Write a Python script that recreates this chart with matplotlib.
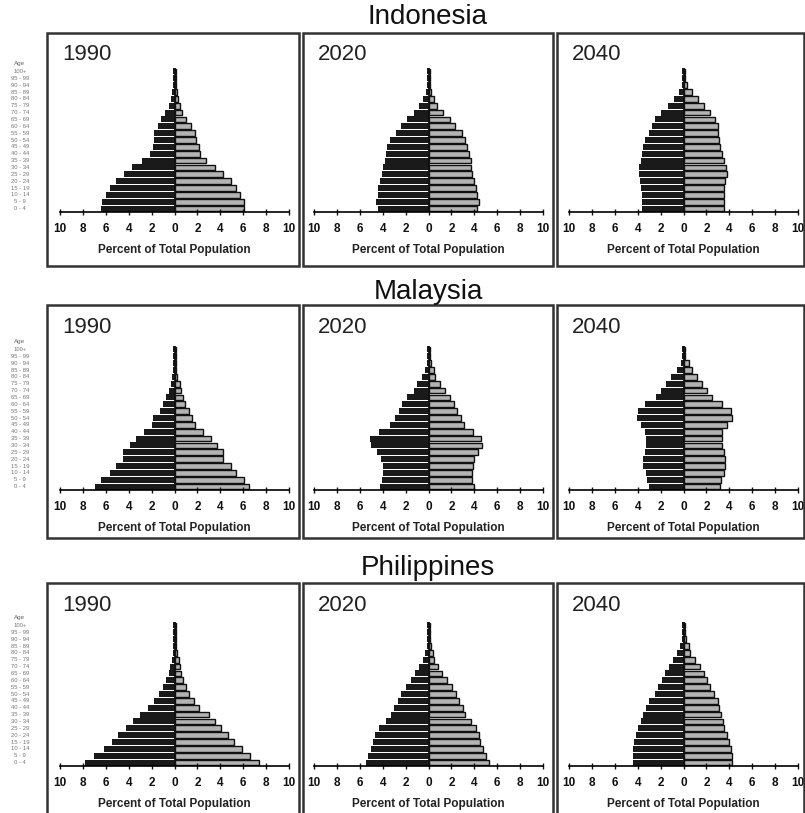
import matplotlib.pyplot as plt
from matplotlib.patches import Rectangle

plt.rcParams['font.family'] = ['Liberation Sans', 'DejaVu Sans']

W, H = 805, 813

age_groups = ["0 - 4", "5 - 9", "10 - 14", "15 - 19", "20 - 24", "25 - 29",
              "30 - 34", "35 - 39", "40 - 44", "45 - 49", "50 - 54", "55 - 59",
              "60 - 64", "65 - 69", "70 - 74", "75 - 79", "80 - 84", "85 - 89",
              "90 - 94", "95 - 99", "100+"]
countries = ["Indonesia", "Malaysia", "Philippines"]
years = ["1990", "2020", "2040"]

# percent of total population, age 0-4 first; male left, female right
idn_1990_m = [6.4, 6.3, 6.0, 5.6, 5.1, 4.4, 3.7, 2.8, 2.1, 1.9, 1.8, 1.75, 1.45, 1.15, 0.8, 0.5, 0.3, 0.18, 0.15, 0.15, 0.15]
idn_1990_f = [6.1, 6.1, 5.75, 5.4, 4.9, 4.2, 3.55, 2.75, 2.2, 2.1, 1.9, 1.75, 1.45, 1.0, 0.65, 0.45, 0.3, 0.18, 0.15, 0.15, 0.15]
idn_2020_m = [4.45, 4.6, 4.45, 4.4, 4.2, 4.1, 3.95, 3.8, 3.7, 3.6, 3.4, 2.85, 2.4, 1.9, 1.25, 0.8, 0.45, 0.25, 0.15, 0.15, 0.15]
idn_2020_f = [4.2, 4.4, 4.2, 4.15, 3.95, 3.8, 3.75, 3.75, 3.5, 3.35, 3.15, 2.9, 2.35, 1.9, 1.25, 0.75, 0.45, 0.25, 0.15, 0.15, 0.15]
idn_2040_m = [3.6, 3.6, 3.65, 3.7, 3.8, 3.85, 3.85, 3.7, 3.6, 3.5, 3.35, 3.05, 2.75, 2.5, 1.95, 1.35, 0.85, 0.4, 0.15, 0.15, 0.15]
idn_2040_f = [3.5, 3.5, 3.5, 3.5, 3.65, 3.8, 3.7, 3.5, 3.35, 3.2, 3.1, 3.05, 3.0, 2.75, 2.35, 1.75, 1.25, 0.7, 0.3, 0.15, 0.15]

mys_1990_m = [6.9, 6.45, 5.65, 5.15, 4.5, 4.5, 3.85, 3.4, 2.65, 2.0, 1.9, 1.25, 1.0, 0.7, 0.45, 0.3, 0.2, 0.15, 0.15, 0.15, 0.15]
mys_1990_f = [6.5, 6.1, 5.4, 4.9, 4.25, 4.2, 3.75, 3.2, 2.45, 1.75, 1.55, 1.3, 0.95, 0.7, 0.6, 0.45, 0.25, 0.15, 0.15, 0.15, 0.15]
mys_2020_m = [4.2, 4.1, 4.0, 4.0, 4.15, 4.5, 5.05, 5.1, 4.3, 3.35, 2.9, 2.55, 2.35, 1.9, 1.3, 1.0, 0.6, 0.3, 0.15, 0.15, 0.15]
mys_2020_f = [4.0, 3.8, 3.8, 3.85, 3.95, 4.35, 4.65, 4.6, 3.9, 3.1, 2.85, 2.5, 2.2, 1.85, 1.4, 1.0, 0.6, 0.45, 0.2, 0.15, 0.15]
mys_2040_m = [3.0, 3.2, 3.25, 3.5, 3.5, 3.35, 3.3, 3.3, 3.4, 3.7, 4.1, 3.95, 3.35, 2.4, 1.95, 1.55, 1.1, 0.6, 0.25, 0.15, 0.15]
mys_2040_f = [3.15, 3.25, 3.5, 3.65, 3.65, 3.5, 3.4, 3.35, 3.4, 3.8, 4.2, 4.15, 3.4, 2.5, 2.05, 1.6, 1.15, 0.7, 0.45, 0.15, 0.15]

phl_1990_m = [7.8, 7.0, 6.2, 5.5, 4.9, 4.2, 3.6, 3.05, 2.3, 1.75, 1.35, 1.0, 0.7, 0.5, 0.35, 0.25, 0.15, 0.15, 0.15, 0.15, 0.15]
phl_1990_f = [7.4, 6.6, 5.9, 5.2, 4.65, 4.05, 3.55, 3.05, 2.15, 1.7, 1.3, 1.0, 0.75, 0.6, 0.45, 0.35, 0.2, 0.15, 0.15, 0.15, 0.15]
phl_2020_m = [5.5, 5.25, 5.05, 4.85, 4.65, 4.35, 3.7, 3.3, 3.0, 2.7, 2.4, 1.95, 1.5, 1.15, 0.8, 0.5, 0.3, 0.15, 0.15, 0.15, 0.15]
phl_2020_f = [5.25, 5.0, 4.8, 4.5, 4.4, 4.15, 3.7, 3.2, 3.0, 2.7, 2.4, 2.05, 1.6, 1.15, 0.8, 0.5, 0.4, 0.2, 0.15, 0.15, 0.15]
phl_2040_m = [4.45, 4.45, 4.45, 4.3, 4.15, 3.95, 3.7, 3.5, 3.3, 3.05, 2.5, 2.2, 1.9, 1.65, 1.3, 0.95, 0.6, 0.3, 0.15, 0.15, 0.15]
phl_2040_f = [4.2, 4.2, 4.15, 4.0, 3.8, 3.55, 3.45, 3.25, 3.1, 3.0, 2.7, 2.35, 2.05, 1.75, 1.4, 1.0, 0.6, 0.45, 0.2, 0.15, 0.15]

data = [
    [(idn_1990_m, idn_1990_f), (idn_2020_m, idn_2020_f), (idn_2040_m, idn_2040_f)],
    [(mys_1990_m, mys_1990_f), (mys_2020_m, mys_2020_f), (mys_2040_m, mys_2040_f)],
    [(phl_1990_m, phl_1990_f), (phl_2020_m, phl_2020_f), (phl_2040_m, phl_2040_f)],
]


def fx(x):
    return x / W


def fy(y):
    return 1 - y / H


fig = plt.figure(figsize=(W / 100, H / 100), dpi=100)

box_cols = [(47, 299), (303, 553), (557, 804)]
box_rows = [(33, 266), (305, 538), (583, 818)]
ax_lefts = [60, 314, 569]
ax_bottoms = [212, 490, 766]
title_y = [17, 292, 568]
ax_w, ax_h = 229, 144

ticks = list(range(-10, 11, 2))
y = list(range(len(age_groups)))

for r, country in enumerate(countries):
    fig.text(fx(428), fy(title_y[r]), country, fontsize=20, ha='center',
             va='center', color='#111')
    for c, year in enumerate(years):
        x0, x1 = box_cols[c]
        y0, y1 = box_rows[r]
        fig.add_artist(Rectangle((fx(x0), fy(y1)), (x1 - x0) / W, (y1 - y0) / H,
                                 transform=fig.transFigure, fill=False,
                                 ec='#333333', lw=1.8))
        fig.text(fx(x0 + 15), fy(y0 + 22), year, fontsize=16, ha='left',
                 va='center', color='#222222')

        male, female = data[r][c]
        ax = fig.add_axes([fx(ax_lefts[c]), fy(ax_bottoms[r]), ax_w / W, ax_h / H])
        ax.patch.set_alpha(0)
        ax.barh(y, [-v for v in male], height=0.86, color='#1a1a1a')
        ax.barh(y, female, height=0.84, color='#b3b3b3', edgecolor='#111111', lw=1.0)
        ax.plot([0, 0], [-0.5, 20.5], color='#111111', lw=1.3)
        ax.set_xlim(-10, 10)
        ax.set_ylim(-0.5, 20.5)
        for s in ['top', 'left', 'right']:
            ax.spines[s].set_visible(False)
        ax.spines['bottom'].set_linewidth(1.2)
        ax.set_yticks([])
        ax.set_xticks(ticks)
        ax.set_xticklabels([str(abs(t)) for t in ticks], fontweight='bold')
        ax.tick_params(axis='x', direction='inout', length=4, width=1,
                       pad=6, labelsize=8.5, colors='#111111')
        ax.text(0.5, -38 / ax_h, "Percent of Total Population", transform=ax.transAxes,
                ha='center', va='center', fontsize=8.5, fontweight='bold',
                color='#222222')

        if c == 0:
            lx = (20 - ax_lefts[c]) / ax_w
            tr = ax.get_yaxis_transform()
            ax.text(lx, 21.2, "Age", transform=tr, ha='center', va='center',
                    fontsize=4.5, color='#666666')
            for i, lab in enumerate(age_groups):
                ax.text(lx, i, lab, transform=tr, ha='center', va='center',
                        fontsize=4.2, color='#777777')

fig.savefig("out.png", dpi=100)
